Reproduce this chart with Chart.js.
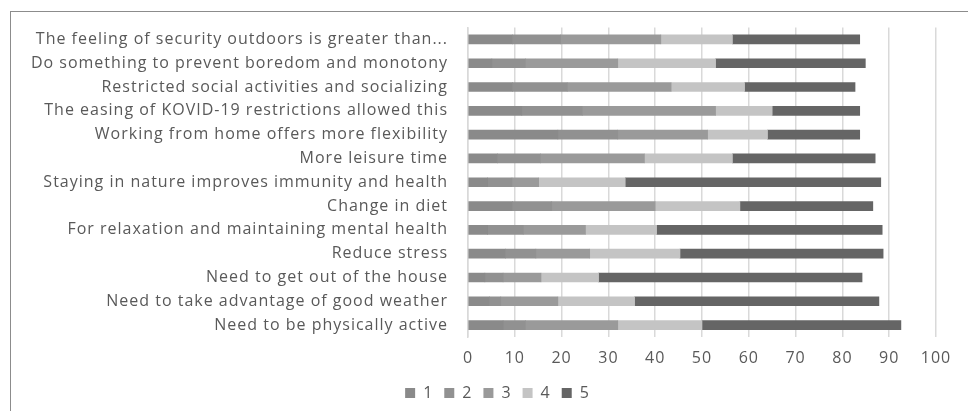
<!DOCTYPE html>
<html>
<head>
<meta charset="utf-8">
<script src="https://cdn.jsdelivr.net/npm/chart.js@4"></script>
<style>
  html, body { margin: 0; padding: 0; background: #fff; overflow: hidden; }
  #wrap {
    position: absolute;
    left: 10px;
    top: 11px;
    width: 974px;
    height: 402px;
    border-left: 1px solid #8c8c8c;
    border-top: 1px solid #8c8c8c;
  }
</style>
</head>
<body>
<div id="wrap"><canvas id="chart" width="974" height="402"></canvas></div>
<script>
const categories = [
  "The feeling of security outdoors is greater than...",
  "Do something to prevent boredom and monotony",
  "Restricted social activities and socializing",
  "The easing of KOVID-19 restrictions allowed this",
  "Working from home offers more flexibility",
  "More leisure time",
  "Staying in nature improves immunity and health",
  "Change in diet",
  "For relaxation and maintaining mental health",
  "Reduce stress",
  "Need to get out of the house",
  "Need to take advantage of good weather",
  "Need to be physically active",
];

const seriesNames = ["1", "2", "3", "4", "5"];
const s1 = [9.5, 5.1, 9.5, 11.5, 19.2, 6.3, 4.2, 9.5, 4.2, 8.0, 3.6, 4.6, 7.5];
const s2 = [10.3, 7.2, 11.7, 12.9, 12.8, 9.2, 5.2, 8.4, 7.6, 6.5, 3.9, 2.4, 4.8];
const s3 = [21.4, 19.7, 22.2, 28.5, 19.2, 22.2, 5.7, 22.1, 13.3, 11.5, 8.1, 12.2, 19.7];
const s4 = [15.3, 20.9, 15.7, 12.1, 12.8, 18.8, 18.5, 18.1, 15.2, 19.3, 12.3, 16.4, 18.0];
const s5 = [27.2, 32.0, 23.6, 18.7, 19.7, 30.5, 54.6, 28.4, 48.2, 43.4, 56.3, 52.2, 42.5];
const xTicks = [0, 10, 20, 30, 40, 50, 60, 70, 80, 90, 100];

const colors = ["#8a8a8a", "#919191", "#9a9a9a", "#c4c4c4", "#656565"];
const textColor = "#595959";
const fontFamily = "'Open Sans', sans-serif";

// the reference text is spaced a bit wider than Open Sans
const spacingPlugin = {
  id: "spacing",
  beforeUpdate: (chart) => {
    chart.ctx.letterSpacing = "1px";
  },
  afterLayout: (chart) => {
    // legend is centred on the whole frame in the original, not the plot
    chart.legend.left += 24;
    chart.legend.right += 24;
  },
  beforeDraw: (chart) => {
    chart.ctx.letterSpacing = "1px";
  },
};

const ctx = document.getElementById("chart").getContext("2d");
new Chart(ctx, {
  type: "bar",
  data: {
    labels: categories,
    datasets: [s1, s2, s3, s4, s5].map((d, i) => ({
      label: seriesNames[i],
      data: d,
      backgroundColor: colors[i],
      borderWidth: 0,
      barThickness: 9,
    })),
  },
  options: {
    indexAxis: "y",
    responsive: false,
    animation: false,
    layout: {
      padding: { left: 0, right: 49, top: 15.5, bottom: 3 },
    },
    scales: {
      x: {
        stacked: true,
        min: 0,
        max: 100,
        afterBuildTicks: (scale) => {
          scale.ticks = xTicks.map((v) => ({ value: v }));
        },
        afterFit: (scale) => {
          scale.height -= 5;
        },
        ticks: {
          color: textColor,
          font: { size: 16, family: fontFamily },
          padding: 11.4,
        },
        grid: {
          color: "#d9d9d9",
          lineWidth: 1.5,
          drawTicks: false,
        },
        border: { display: false },
      },
      y: {
        stacked: true,
        afterFit: (scale) => {
          scale.width = 457;
          scale.paddingTop = 0;
          scale.paddingBottom = 0;
        },
        ticks: {
          color: textColor,
          font: { size: 16, family: fontFamily },
          padding: 12,
        },
        grid: { display: false },
        border: { display: true, color: "#d9d9d9", width: 1.5 },
      },
    },
    plugins: {
      legend: {
        position: "bottom",
        labels: {
          color: textColor,
          font: { size: 16, family: fontFamily },
          boxWidth: 10,
          boxHeight: 10,
          padding: 11,
        },
      },
      tooltip: { enabled: false },
    },
  },
  plugins: [spacingPlugin],
});
</script>
</body>
</html>
